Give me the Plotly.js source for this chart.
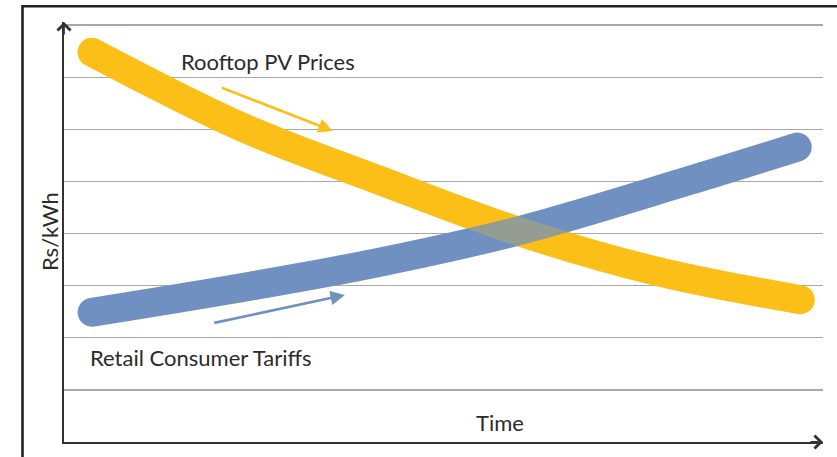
<!DOCTYPE html>
<html>
<head>
<meta charset="utf-8">
<script src="https://cdn.plot.ly/plotly-3.0.1.min.js"></script>
<style>
  html, body { margin: 0; padding: 0; background: #fff; }
  #chart { width: 837px; height: 457px; }
  .scatterlayer .js-line { stroke-linecap: round; }
</style>
</head>
<body>
<div id="chart"></div>
<script>
// Rooftop PV prices (declining)
const pvTime  = [0.37, 2.35, 4.14, 5.97, 7.80, 9.70];
const pvPrice = [7.48, 6.04, 5.03, 4.05, 3.28, 2.73];
// Retail consumer tariffs (rising)
const tariffTime  = [0.37, 2.45, 4.16, 5.98, 8.22, 9.66];
const tariffValue = [2.49, 2.99, 3.45, 4.05, 5.01, 5.66];

const seriesNames = ['Rooftop PV Prices', 'Retail Consumer Tariffs'];
const xTitle = 'Time';
const yTitle = 'Rs/kWh';
// trend arrows [tailX, tailY, headX, headY]
const pvArrow = [2.06, 6.81, 3.54, 5.97];
const tariffArrow = [1.96, 2.28, 3.70, 2.82];

const yellow = '#FCBF18';
const blue = '#6F90C1';
const LW = 29;

const traces = [
  { x: pvTime, y: pvPrice, mode: 'lines', name: seriesNames[0],
    line: { color: yellow, width: LW, shape: 'spline', smoothing: 1 }, hoverinfo: 'skip' },
  { x: tariffTime, y: tariffValue, mode: 'lines', name: seriesNames[1],
    line: { color: blue, width: LW, shape: 'spline', smoothing: 1 }, hoverinfo: 'skip' },
  { x: pvTime, y: pvPrice, mode: 'lines', name: seriesNames[0], opacity: 0.27, showlegend: false,
    line: { color: yellow, width: LW, shape: 'spline', smoothing: 1 }, hoverinfo: 'skip' }
];

const textFont = { family: 'Lato, "Open Sans", sans-serif', size: 22, color: '#2b2b2b' };
const px = p => (p - 64) / 759;
const py = p => (442 - p) / 420;
const label = (x, y, text, extra) => Object.assign({ xref: 'paper', yref: 'paper', x: px(x), y: py(y), text: text,
  showarrow: false, xanchor: 'center', yanchor: 'middle', font: textFont }, extra || {});

const layout = {
  width: 837, height: 457,
  margin: { l: 64, r: 14, t: 22, b: 15 },
  paper_bgcolor: '#ffffff', plot_bgcolor: '#ffffff',
  showlegend: false,
  xaxis: { range: [0, 10], showgrid: false, zeroline: false, showticklabels: false, ticks: '',
           showline: true, linecolor: '#333', linewidth: 2 },
  yaxis: { range: [0, 8.06], dtick: 1, tick0: 0, showgrid: true, gridcolor: '#a8a8a8', gridwidth: 1.4,
           zeroline: false, showticklabels: false, ticks: '',
           showline: true, linecolor: '#333', linewidth: 2 },
  shapes: [
    { type: 'rect', xref: 'paper', yref: 'paper', x0: px(22.5), x1: 1.3, y0: -0.3, y1: py(6.2),
      line: { color: '#222', width: 2.6 }, fillcolor: 'rgba(0,0,0,0)', layer: 'above' }
  ],
  annotations: [
    label(268, 61, seriesNames[0]),
    label(201, 357, seriesNames[1]),
    label(500, 422, xTitle),
    label(49, 232, yTitle, { textangle: -90 }),
    // trend arrows
    { xref: 'x', yref: 'y', axref: 'x', ayref: 'y', x: pvArrow[2], y: pvArrow[3], ax: pvArrow[0], ay: pvArrow[1],
      text: '', showarrow: true, arrowhead: 2, arrowsize: 1.1, arrowwidth: 2.6, arrowcolor: yellow },
    { xref: 'x', yref: 'y', axref: 'x', ayref: 'y', x: tariffArrow[2], y: tariffArrow[3], ax: tariffArrow[0], ay: tariffArrow[1],
      text: '', showarrow: true, arrowhead: 2, arrowsize: 1.1, arrowwidth: 2.6, arrowcolor: blue },
    // axis arrow heads
    { xref: 'paper', yref: 'paper', x: 1, y: 0, ax: -14, ay: 0, text: '', showarrow: true,
      arrowhead: 4, arrowsize: 1.4, arrowwidth: 1.8, arrowcolor: '#333' },
    { xref: 'paper', yref: 'paper', x: 0, y: 1, ax: 0, ay: 14, text: '', showarrow: true,
      arrowhead: 4, arrowsize: 1.4, arrowwidth: 1.8, arrowcolor: '#333' }
  ]
};

Plotly.newPlot('chart', traces, layout, { staticPlot: true, displayModeBar: false });
</script>
</body>
</html>
